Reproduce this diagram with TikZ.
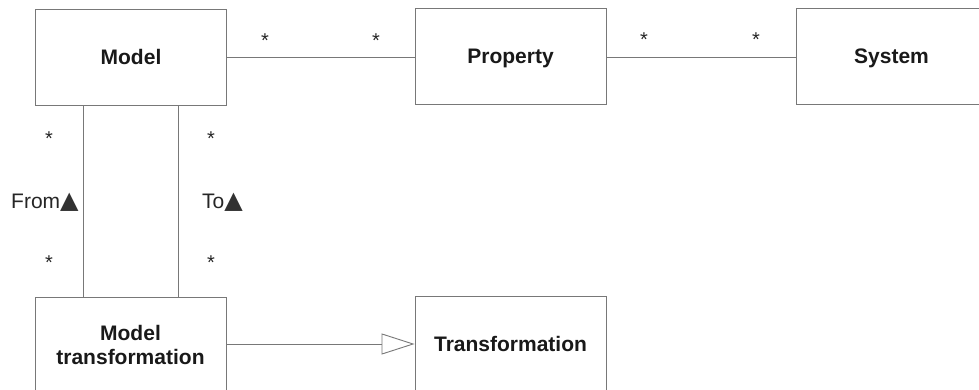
\documentclass[tikz,border=0pt]{standalone}
\usepackage{fontspec}
\setmainfont{Liberation Sans}
\newfontfamily\symfont{DejaVu Sans}
\usetikzlibrary{arrows.meta}
\definecolor{linegray}{RGB}{120,120,120}
\definecolor{tri}{RGB}{50,50,50}
\tikzset{
  cls/.style={draw=linegray, line width=0.9pt, minimum width=191pt, minimum height=96pt,
    inner sep=0pt, font=\fontsize{21}{25}\selectfont\bfseries, text=black!90,
    text height=15pt, text depth=0pt, align=center},
  cls2/.style={draw=linegray, line width=0.9pt, minimum width=191pt, minimum height=96pt,
    inner sep=0pt, font=\fontsize{21}{24}\selectfont\bfseries, text=black!90, align=center},
  assoc/.style={draw=linegray, line width=0.9pt},
  mult/.style={font=\fontsize{20}{24}\selectfont, anchor=base, inner sep=0pt, text=black!85},
  role/.style={font=\fontsize{21}{25}\selectfont, anchor=base west, inner sep=0pt, text=black!85},
  gen/.style={draw=linegray, line width=0.9pt, -{Triangle[open, length=33pt, width=21pt, fill=white]}}
}
\begin{document}
\begin{tikzpicture}[x=1pt, y=-1pt]
\useasboundingbox (0,0) rectangle (979,390);
\clip (0,0) rectangle (979,390);
\fill[white] (0,0) rectangle (979,390);
% classes
\node[cls] (model) at (131,57) {Model};
\node[cls] (property) at (510.5,56) {Property};
\node[cls] (system) at (891.5,56) {System};
\node[cls2] (mt) at (130.5,345) {Model\\transformation};
\node[cls] (trans) at (510.5,344) {Transformation};
% associations
\draw[assoc] (model.east |- 0,57) -- (property.west |- 0,57);
\draw[assoc] (property.east |- 0,57) -- (system.west |- 0,57);
\draw[assoc] (model.south -| 83,0) -- (mt.north -| 83,0);
\draw[assoc] (model.south -| 178,0) -- (mt.north -| 178,0);
% generalization
\draw[gen] (mt.east |- 0,344) -- (trans.west |- 0,344);
% multiplicities
\node[mult] (m1) at (265,47.5) {*};
\node[mult] (m2) at (376,47.5) {*};
\node[mult] (m3) at (644,46.5) {*};
\node[mult] (m4) at (756,46.5) {*};
\node[mult] (m5) at (49,145.5) {*};
\node[mult] (m6) at (49,269.5) {*};
\node[mult] (m7) at (211,145.5) {*};
\node[mult] (m8) at (211,269.5) {*};
% roles
\node[role] (from) at (11,208) {From{\symfont\fontsize{24}{26}\selectfont\color{tri}▲}};
\node[role] (to) at (202,208) {To{\symfont\fontsize{24}{26}\selectfont\color{tri}▲}};
\end{tikzpicture}
\end{document}
